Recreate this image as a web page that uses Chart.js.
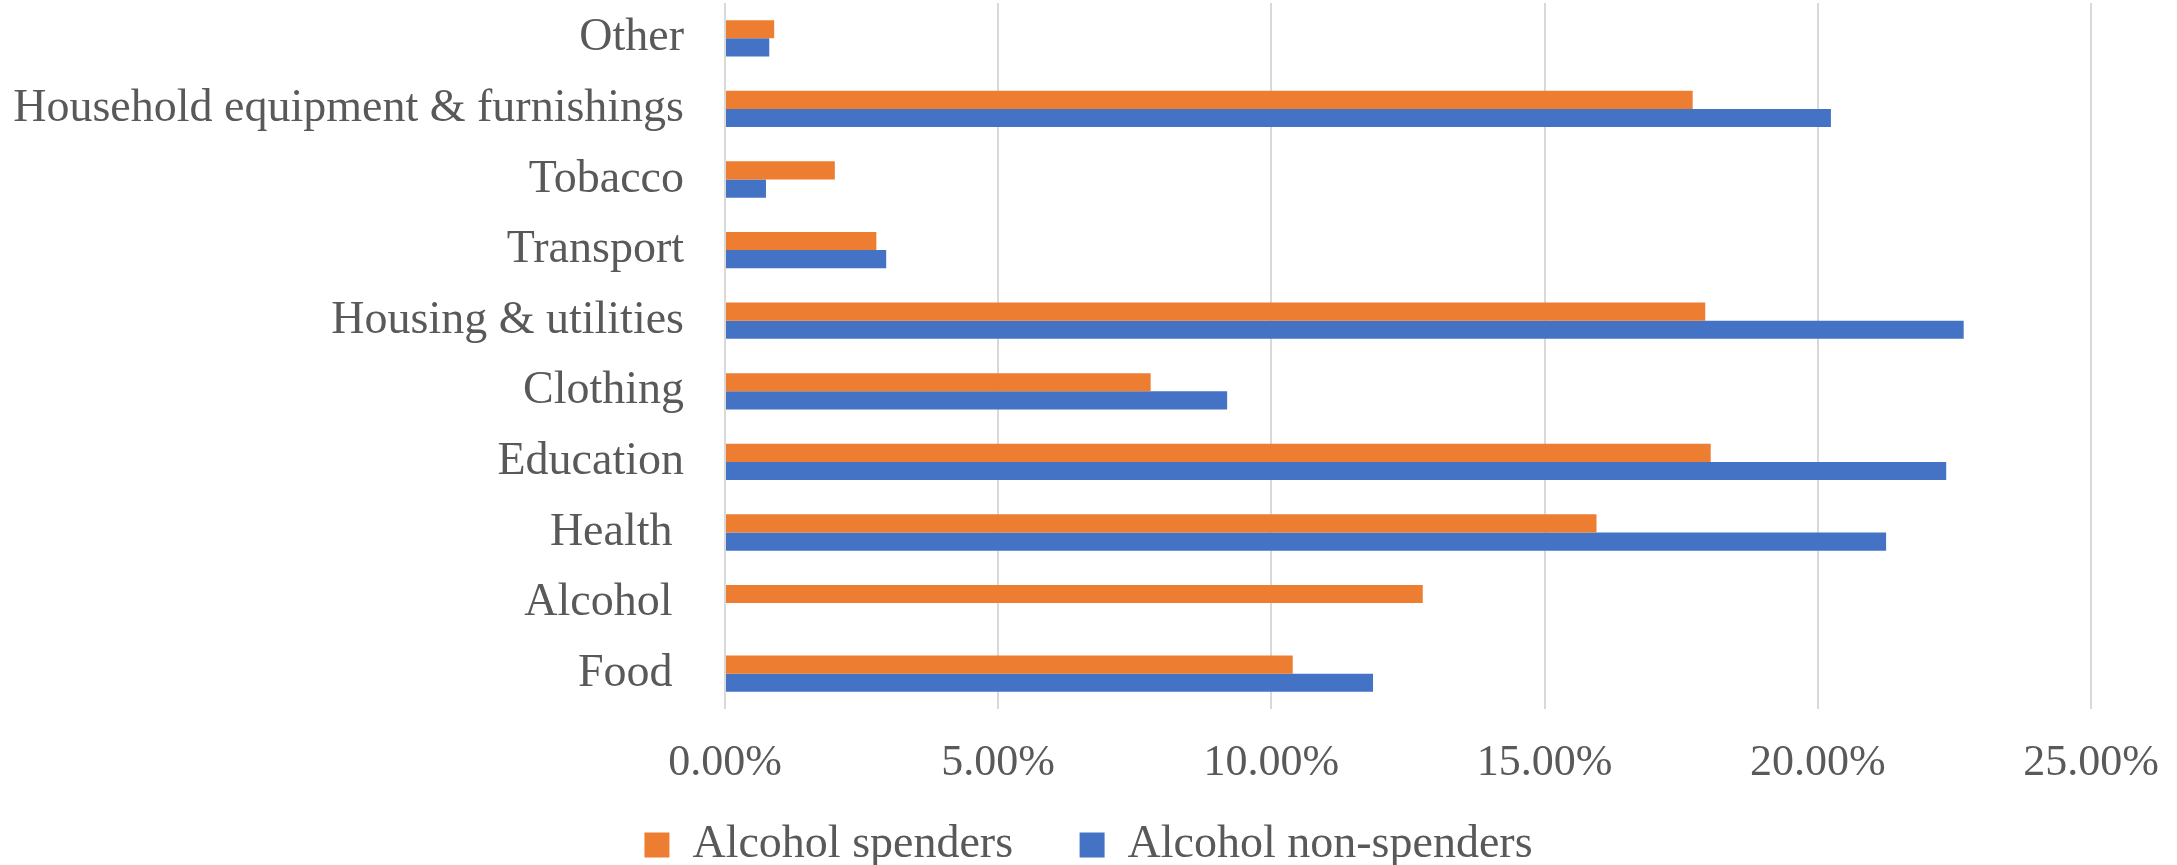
<!DOCTYPE html>
<html>
<head>
<meta charset="utf-8">
<script src="https://cdn.jsdelivr.net/npm/chart.js@4/dist/chart.umd.min.js"></script>
<style>
  html, body { margin: 0; padding: 0; background: #ffffff; }
  #wrap { width: 2177px; height: 865px; }
</style>
</head>
<body>
<div id="wrap"><canvas id="spendChart" width="2177" height="865"></canvas></div>
<script>
// Categories, top to bottom as shown
const categories = [
  'Other',
  'Household equipment & furnishings',
  'Tobacco',
  'Transport',
  'Housing & utilities',
  'Clothing',
  'Education',
  'Health ',
  'Alcohol ',
  'Food '
];

// Share of spending (%)
const alcoholSpenders = [0.90, 17.71, 2.01, 2.77, 17.94, 7.79, 18.04, 15.95, 12.77, 10.39];
const alcoholNonSpenders = [0.81, 20.24, 0.75, 2.95, 22.67, 9.19, 22.35, 21.25, 0, 11.86];

const seriesNames = ['Alcohol spenders', 'Alcohol non-spenders'];
const xTicks = [0, 5, 10, 15, 20, 25];

const colors = {
  orange: '#ED7D31',
  blue: '#4472C4',
  grid: '#d9d9d9',
  text: '#595959',
};

const fontFamily = '"Liberation Serif", "DejaVu Serif", serif';

const ctx = document.getElementById('spendChart').getContext('2d');

new Chart(ctx, {
  type: 'bar',
  data: {
    labels: categories,
    datasets: [
      {
        label: seriesNames[0],
        data: alcoholSpenders,
        backgroundColor: colors.orange,
        categoryPercentage: 0.514,
        barPercentage: 1.0,
      },
      {
        label: seriesNames[1],
        data: alcoholNonSpenders,
        backgroundColor: colors.blue,
        categoryPercentage: 0.514,
        barPercentage: 1.0,
      },
    ],
  },
  options: {
    indexAxis: 'y',
    responsive: false,
    animation: false,
    layout: {
      padding: {left: 0, right: 0, top: 3, bottom: -13},
    },
    plugins: {
      tooltip: {enabled: false},
      legend: {
        position: 'bottom',
        labels: {
          boxWidth: 25,
          boxHeight: 25,
          padding: 32,
          color: colors.text,
          font: {family: fontFamily, size: 46},
          // a little extra room between the two legend entries
          generateLabels: (chart) => {
            const items = Chart.defaults.plugins.legend.labels.generateLabels(chart);
            items.forEach((item, i) => {
              if (i < items.length - 1) item.text = item.text + '\u00A0\u00A0\u00A0';
            });
            return items;
          },
        },
      },
    },
    scales: {
      x: {
        min: 0,
        max: 25,
        afterBuildTicks: (scale) => {
          scale.ticks = xTicks.map(v => ({value: v}));
        },
        afterFit: (scale) => {
          scale.height = 81;
          scale.paddingLeft = 0;
          scale.paddingRight = 86;
        },
        grid: {
          color: colors.grid,
          lineWidth: 2,
          drawTicks: true,
          tickLength: 25,
          tickColor: 'rgba(0,0,0,0)',
        },
        border: {display: false},
        ticks: {
          padding: 3,
          color: colors.text,
          font: {family: fontFamily, size: 44},
          callback: (value) => value.toFixed(2) + '%',
        },
      },
      y: {
        afterFit: (scale) => {
          scale.width = 725;
          scale.paddingTop = 0;
          scale.paddingBottom = 0;
        },
        grid: {
          display: true,
          color: 'rgba(0,0,0,0)',
          drawTicks: true,
          tickLength: 38,
          tickColor: 'rgba(0,0,0,0)',
        },
        border: {display: false},
        ticks: {
          padding: 3,
          color: colors.text,
          font: {family: fontFamily, size: 46},
        },
      },
    },
  },
});
</script>
</body>
</html>
